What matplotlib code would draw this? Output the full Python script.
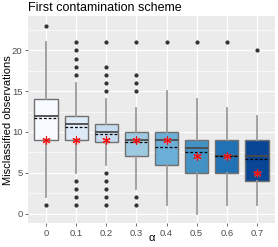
import matplotlib
matplotlib.use("Agg")
import matplotlib.pyplot as plt

categories = ["0", "0.1", "0.2", "0.3", "0.4", "0.5", "0.6", "0.7"]
q1 = [9, 9, 8.75, 7, 6, 5, 5, 4]
median = [12, 11, 10, 9, 9, 8, 7, 7]
q3 = [14, 12, 11, 10, 10, 9, 9, 9]
whisk_lo = [2, 5, 6, 3, 1, 0, 1, 1]
whisk_hi = [21, 16, 14, 13, 15, 14, 13, 12]
means = [11.7, 10.6, 9.7, 8.8, 8.15, 7.6, 7.1, 6.7]
stars = [9, 9, 9, 9, 9, 7, 7, 5]
outliers = [
    [23, 1],
    [21, 20, 19, 18, 17, 4, 3, 2, 1],
    [21, 18, 17, 16, 15, 5, 4, 3, 2, 1],
    [21, 17, 16, 15, 2, 1],
    [21],
    [21],
    [21],
    [20],
]
colors = ["#f7fbff", "#deebf7", "#c6dbef", "#9ecae1", "#6baed6", "#4292c6", "#2171b5", "#084594"]
title = "First contamination scheme"
ylabel = "Misclassified observations"
xlabel = "α"
yticks = [0, 5, 10, 15, 20]

plt.rcParams['font.family'] = ['Liberation Sans', 'DejaVu Sans']

fig = plt.figure(figsize=(2.78, 2.47), dpi=100)
L, R, T, B = 28, 275, 16.5, 223
ax = fig.add_axes([L/278, 1 - B/247, (R-L)/278, (B-T)/247])
ax.set_facecolor("#ebebeb")

pos = list(range(len(categories)))
stats = []
for i in pos:
    stats.append(dict(med=median[i], q1=q1[i], q3=q3[i], whislo=whisk_lo[i],
                      whishi=whisk_hi[i], fliers=outliers[i], mean=means[i]))

bp = ax.bxp(stats, positions=pos, widths=0.77, patch_artist=True, showcaps=False,
            showmeans=False, meanline=False,
            whiskerprops=dict(color="#9a9a9a", linewidth=1.3),
            medianprops=dict(color="#4a4a4a", linewidth=1.3),
            boxprops=dict(edgecolor="#707070", linewidth=1.0),
            flierprops=dict(marker="o", markersize=2.0, markerfacecolor="#333333",
                            markeredgecolor="#333333", linestyle="none"),
            zorder=3)
for patch, c in zip(bp["boxes"], colors):
    patch.set_facecolor(c)

# mean dashed lines
for i in pos:
    ax.plot([i - 0.385, i + 0.385], [means[i], means[i]], color="black",
            linestyle=(0, (2.2, 1.6)), linewidth=0.9, zorder=4)

# red stars
ax.scatter(pos, stars, marker="*", s=60, color="#ff8080", alpha=0.5, linewidths=0, zorder=5)
ax.scatter(pos, stars, marker=(6, 2, 0), s=28, color="#ee1111", linewidths=0.8, zorder=6)

ax.set_xlim(-0.6, len(categories) - 0.4)
ax.set_ylim(-1.15, 24.15)
ax.set_xticks(pos)
ax.set_xticklabels(categories)
ax.set_yticks(yticks)
ax.set_yticks([2.5, 7.5, 12.5, 17.5, 22.5], minor=True)
ax.grid(True, which="major", color="white", linewidth=0.9, zorder=0)
ax.grid(True, which="minor", axis="y", color="white", linewidth=0.45, zorder=0)
ax.set_axisbelow(True)
for s in ax.spines.values():
    s.set_visible(False)
ax.tick_params(axis="both", which="major", labelsize=6.8, labelcolor="#4d4d4d",
               color="#333333", length=2.5, width=0.5, pad=1.5)
ax.tick_params(axis="both", which="minor", length=0)
ax.set_ylabel(ylabel, fontsize=8)
ax.yaxis.set_label_coords((13 - L) / (R - L), 0.5)
ax.set_xlabel(xlabel, fontsize=8)
ax.xaxis.set_label_coords(0.5, (B - 233) / (B - T))
ax.set_title(title, fontsize=9, loc="left", pad=4, x=0.0)

fig.savefig("out.png", dpi=100)
